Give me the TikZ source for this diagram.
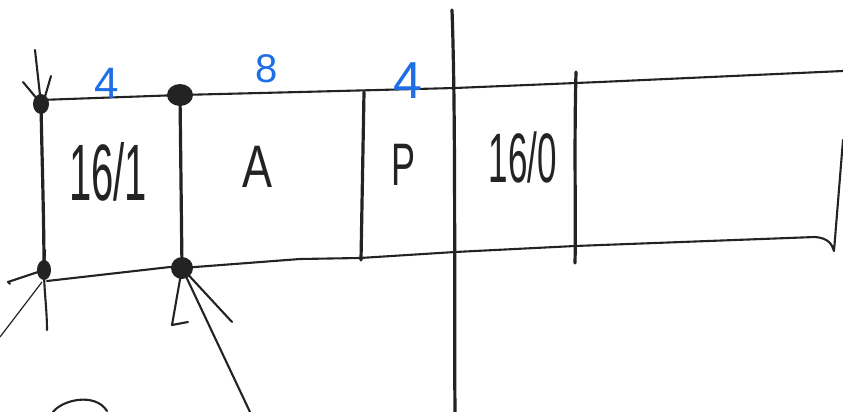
\documentclass[tikz,border=0pt]{standalone}
\usepackage{graphicx}
\usepackage{fontspec}
\setmainfont{Liberation Sans}
\definecolor{pen}{RGB}{35,35,35}
\definecolor{bluepen}{RGB}{30,110,230}
\begin{document}
\begin{tikzpicture}[x=1pt,y=-1pt,
  thin line/.style={draw=pen,line width=2.1pt,line cap=round,line join=round},
  thick line/.style={draw=pen,line width=3.2pt,line cap=round,line join=round},
  dotmark/.style={fill=pen},
  hand/.style={text=pen,inner sep=0pt,anchor=base},
  blue num/.style={text=bluepen,inner sep=0pt,anchor=base}]
\useasboundingbox (0,0) rectangle (843,412);
\fill[white] (0,0) rectangle (843,412);
% key points
\coordinate (TL) at (41,104);
\coordinate (T2) at (180,95);
\coordinate (BL) at (44,270);
\coordinate (B2) at (182,268);
% top and bottom band lines
\draw[thin line] (40,100) -- (T2) -- (300,92) -- (455,88) -- (600,82) -- (843,71);
\draw[thin line] (47,281) -- (170,267) -- (B2) -- (300,259) -- (360,258) -- (455,252) -- (575,246) -- (815,237)
  .. controls (828,238) and (832,244) .. (834,251) -- (843,140);
% verticals
\draw[thick line] (TL) .. controls (42,160) and (44,220) .. (BL);
\draw[thick line] (T2) -- (B2);
\draw[thick line] (364,92) -- (361,260);
\draw[thick line] (452,10) .. controls (456,120) and (454,300) .. (455,412);
\draw[thick line] (576,72) .. controls (574,150) and (576,220) .. (575,263);
% arrow into top-left corner
\draw[thin line] (35,50) -- (TL);
\draw[thin line] (23,82) -- (38,100);
\draw[thin line] (51,76) -- (44,100);
% strokes at bottom-left corner
\draw[thin line] (45,250) -- (BL);
\draw[thin line] (10,284) -- (8,282) -- (BL);
\draw[thin line] (BL) .. controls (44,290) and (47,310) .. (47,330);
\draw[draw=pen,line width=1.2pt] (42,282) -- (0,337);
% strokes at second bottom dot
\draw[thin line] (B2) -- (172,325) -- (188,322);
\draw[thin line] (B2) -- (232,322);
\draw[thin line] (B2) -- (250,412);
% dots
\fill[dotmark] (TL) ellipse (8 and 10);
\fill[dotmark] (T2) ellipse (13 and 11);
\fill[dotmark] (BL) ellipse (7 and 10);
\fill[dotmark] (B2) ellipse (11 and 11);
% arc bottom left
\draw[thin line] (53,412) .. controls (62,400) and (95,392) .. (107,411);
% labels
\node[hand,font=\fontsize{80}{80}\selectfont] (l161) at (108,200) {\scalebox{0.5}[1]{16/1}};
\node[hand,font=\fontsize{60}{60}\selectfont] (lA) at (258,187) {\scalebox{0.75}[1]{A}};
\node[hand,font=\fontsize{60}{60}\selectfont] (lP) at (404,185) {\scalebox{0.6}[1]{P}};
\node[hand,font=\fontsize{70}{70}\selectfont] (l160) at (523,182) {\scalebox{0.5}[1]{16/0}};
\node[blue num,font=\fontsize{44}{44}\selectfont] (n4a) at (107,98) {4};
\node[blue num,font=\fontsize{40}{40}\selectfont] (n8) at (267,82) {8};
\node[blue num,font=\fontsize{52}{52}\selectfont] (n4b) at (408,98) {4};
\end{tikzpicture}
\end{document}
